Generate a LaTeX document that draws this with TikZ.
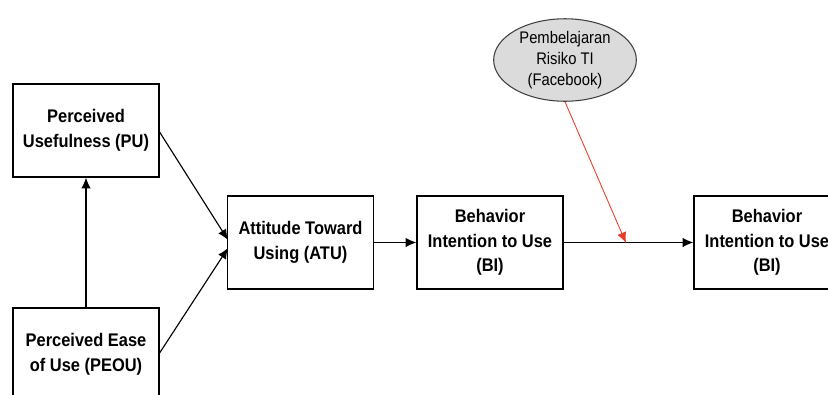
\documentclass[tikz,border=0pt]{standalone}
\usepackage{fontspec}
\setmainfont{Liberation Sans}
\newfontfamily\narrowsans[FakeStretch=0.9]{Liberation Sans}
\newfontfamily\narrowersans[FakeStretch=0.88]{Liberation Sans}
\usetikzlibrary{arrows.meta,shapes.geometric}
\definecolor{modred}{RGB}{228,62,44}
\tikzset{
  px/.style={x=0.75pt,y=-0.75pt},
  box/.style={draw=black, line width=0.9pt, fill=white, rectangle, inner sep=0pt,
    minimum width=109.5pt, minimum height=69.75pt, align=center,
    font=\narrowsans\fontsize{13.7}{18.5}\selectfont\bfseries},
  oval/.style={draw=black!75, line width=0.8pt, fill=black!14, ellipse, inner sep=0pt,
    minimum width=107pt, minimum height=57pt, align=center,
    font=\narrowersans\fontsize{12.6}{16}\selectfont},
  conn/.style={draw=black, line width=0.85pt, -{Latex[length=8pt,width=7pt]}},
  redconn/.style={draw=modred, line width=0.65pt, -{Latex[length=8pt,width=7pt]}}
}
\begin{document}
\begin{tikzpicture}[px]
\useasboundingbox (0,0) rectangle (828,394);
\node[box] (pu) at (86,130.5) {Perceived\\Usefulness (PU)};
\node[box] (peou) at (86,354.5) {Perceived Ease\\of Use (PEOU)};
\node[box] (atu) at (300.5,242.5) {Attitude Toward\\Using (ATU)};
\node[box] (bi) at (490,242.5) {Behavior\\Intention to Use\\(BI)};
\node[box] (bi2) at (767,242.5) {Behavior\\Intention to Use\\(BI)};
\node[oval] (pr) at (565,60) {Pembelajaran\\Risiko TI\\(Facebook)};
\coordinate (atuA) at (228,240);
\coordinate (atuB) at (228,248);
\coordinate (mod) at (626,243);
\draw[conn] (peou.north) -- (pu.south);
\draw[conn] (pu.east |- 0,132) -- (atuA);
\draw[conn] (peou.east |- 0,353) -- (atuB);
\draw[conn] (atu.east) -- (bi.west);
\draw[conn] (bi.east) -- (bi2.west);
\draw[redconn] (pr.south) -- (mod);
\end{tikzpicture}
\end{document}
